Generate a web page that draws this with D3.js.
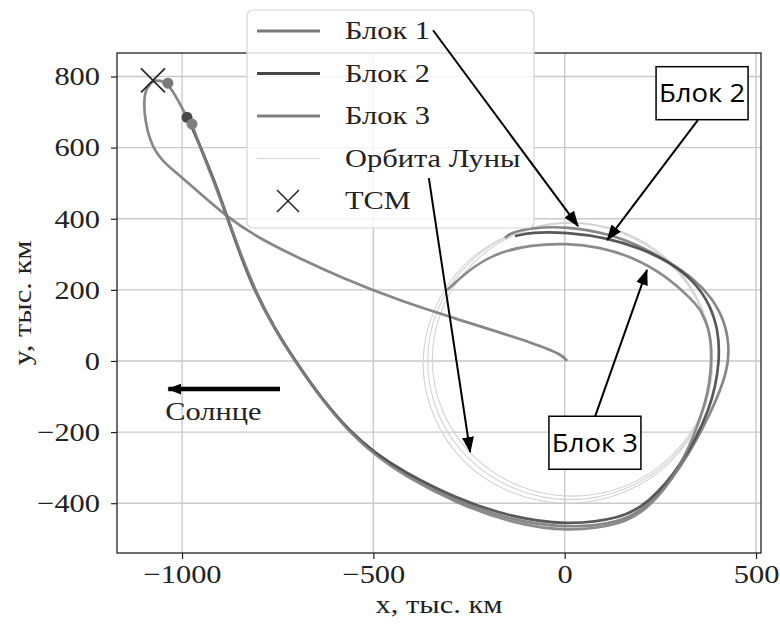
<!DOCTYPE html>
<html>
<head>
<meta charset="utf-8">
<script src="https://d3js.org/d3.v7.min.js"></script>
<style>
  body { margin: 0; background: #fff; }
</style>
</head>
<body>
<svg id="chart" width="780" height="626"></svg>
<script>
// ---- data (thousand km) ----
var xTicks = [-1000, -500, 0, 500];
var yTicks = [-400, -200, 0, 200, 400, 600, 800];

// Block 1: from Earth out to the far point (TCM), then the big loop back to the Moon orbit
var block1 = [[6,0],[-7,17],[-65,45],[-300,124],[-430,169],[-587,236],[-684,284],[-790,340],
  [-882,402],[-1000,517],[-1050,559],[-1081,607],[-1097,677],[-1100,733],[-1094,767],[-1076,789],
  [-1057,789],[-1037,781],[-1010,733],[-987,685],[-974,660],[-940,573],[-911,489],[-882,402],
  [-848,298],[-812,199],[-762,96],[-705,0],[-639,-101],[-561,-199],[-496,-260],[-430,-310],
  [-287,-393],[-143,-447],[1,-471],[145,-456],[215,-411],[301,-310],[387,-138],[427,-25],[430,45],
  [417,115],[385,177],[341,228],[275,278],[197,323],[119,357],[6,379],[-90,374],[-143,360],[-156,346]];

var block2 = [[-987,685],[-974,657],[-940,570],[-908,486],[-880,399],[-846,295],[-809,197],
  [-759,93],[-702,-3],[-637,-104],[-559,-202],[-493,-260],[-428,-307],[-284,-387],[-140,-439],
  [3,-462],[147,-444],[218,-400],[301,-302],[385,-132],[406,3],[401,87],[380,157],[341,222],
  [275,278],[197,317],[111,346],[6,362],[-90,362],[-130,351]];

var block3 = [[-974,666],[-940,565],[-908,480],[-877,393],[-843,289],[-806,191],[-757,87],
  [-700,-8],[-634,-110],[-556,-208],[-490,-269],[-425,-319],[-282,-401],[-138,-456],[6,-481],
  [150,-461],[220,-414],[301,-310],[375,-110],[385,3],[380,87],[354,143],[354,143],[354,143],
  [335,171],[262,242],[178,292],[92,320],[6,331],[-90,326],[-169,306],[-235,270],[-308,199]];

var moonOrbit1 = [[386,0],[358,149],[277,276],[156,360],[14,390],[-128,360],[-249,276],[-330,149],
  [-358,0],[-330,-149],[-249,-276],[-128,-360],[14,-390],[156,-360],[277,-276],[358,-149]];
var moonOrbit2 = [[386,-6],[357,145],[275,273],[153,358],[8,388],[-137,357],[-259,273],[-340,145],
  [-370,-6],[-341,-157],[-260,-285],[-137,-370],[8,-400],[153,-370],[275,-285],[357,-157]];
var moonOrbit3 = [[386,4],[358,151],[279,275],[160,359],[20,388],[-120,359],[-239,275],[-318,151],
  [-346,4],[-318,-143],[-239,-267],[-120,-351],[20,-380],[160,-351],[279,-267],[358,-143]];

var tcm = [-1076, 789];
var blockStarts = [[-1037,781],[-987,685],[-974,666]];

var legendLabels = ["Блок 1", "Блок 2", "Блок 3", "Орбита Луны", "ТСМ"];
var blockColors = ["#7a7a7a", "#474747", "#808080"];
var orbitColor = "#d3d3d3";

// ---- layout ----
var svg = d3.select("#chart");
var pL = 117, pR = 761, pT = 53, pB = 553;
var x = d3.scaleLinear().domain([-1170, 513]).range([pL, pR]);
var y = d3.scaleLinear().domain([-540, 866]).range([pB, pT]);
var FS = 26, SX = 1.17;   // serif text size and horizontal stretch
var serif = "'Liberation Serif', 'Times New Roman', serif";

var defs = svg.append("defs");
defs.append("clipPath").attr("id", "plotclip")
  .append("rect").attr("x", pL).attr("y", pT).attr("width", pR - pL).attr("height", pB - pT);
defs.append("marker").attr("id", "head")
  .attr("markerUnits", "userSpaceOnUse")
  .attr("markerWidth", 16).attr("markerHeight", 12)
  .attr("refX", 15).attr("refY", 6).attr("orient", "auto")
  .append("path").attr("d", "M0,0 L16,6 L0,12 Z").attr("fill", "#000");
defs.append("marker").attr("id", "sunhead")
  .attr("markerUnits", "userSpaceOnUse")
  .attr("markerWidth", 14).attr("markerHeight", 11)
  .attr("refX", 13).attr("refY", 5.5).attr("orient", "auto")
  .append("path").attr("d", "M0,0 L14,5.5 L0,11 Z").attr("fill", "#000");

function label(g, tx, ty, str, anchor, rot) {
  return g.append("text")
    .attr("transform", "translate(" + tx + "," + ty + ")" + (rot ? " rotate(" + rot + ")" : "") + " scale(" + SX + ",1)")
    .attr("text-anchor", anchor || "start")
    .style("font-family", serif)
    .attr("font-size", FS).attr("fill", "#222").text(str);
}

// grid
var grid = svg.append("g");
grid.selectAll(".gx").data(xTicks).enter().append("line")
  .attr("x1", function(d) { return x(d); }).attr("x2", function(d) { return x(d); })
  .attr("y1", pT).attr("y2", pB)
  .attr("stroke", "#c9c9c9").attr("stroke-width", 1.4);
grid.selectAll(".gy").data(yTicks).enter().append("line")
  .attr("y1", function(d) { return y(d); }).attr("y2", function(d) { return y(d); })
  .attr("x1", pL).attr("x2", pR)
  .attr("stroke", "#c9c9c9").attr("stroke-width", 1.4);

var plot = svg.append("g").attr("clip-path", "url(#plotclip)");
var orbitLine = d3.line().x(function(d) { return x(d[0]); }).y(function(d) { return y(d[1]); })
  .curve(d3.curveCatmullRomClosed);
var line = d3.line().x(function(d) { return x(d[0]); }).y(function(d) { return y(d[1]); })
  .curve(d3.curveBasis);

// moon orbit
[moonOrbit1, moonOrbit2, moonOrbit3].forEach(function(o) {
  plot.append("path").attr("d", orbitLine(o))
    .attr("fill", "none").attr("stroke", orbitColor).attr("stroke-width", 1.1);
});

// trajectories
[block1, block2, block3].forEach(function(b, i) {
  plot.append("path").attr("d", line(b))
    .attr("fill", "none").attr("stroke", blockColors[i])
    .attr("stroke-width", 2.7).attr("stroke-opacity", 0.9);
});

// block start points
plot.selectAll(".dot").data(blockStarts).enter().append("circle")
  .attr("cx", function(d) { return x(d[0]); })
  .attr("cy", function(d) { return y(d[1]); })
  .attr("r", 5.5)
  .attr("fill", function(d, i) { return blockColors[i]; });

// TCM marker
var tx = x(tcm[0]), ty = y(tcm[1]);
plot.append("path")
  .attr("d", "M" + (tx - 12) + "," + (ty - 12) + "L" + (tx + 12) + "," + (ty + 12) +
             "M" + (tx - 12) + "," + (ty + 12) + "L" + (tx + 12) + "," + (ty - 12))
  .attr("stroke", "#222").attr("stroke-width", 1.6);

// axes
var fmt = d3.format("d");
var xAxis = svg.append("g").attr("transform", "translate(0," + pB + ")")
  .call(d3.axisBottom(x).tickValues(xTicks).tickFormat(fmt).tickSize(6).tickPadding(6).tickSizeOuter(0));
var yAxis = svg.append("g").attr("transform", "translate(" + pL + ",0)")
  .call(d3.axisLeft(y).tickValues(yTicks).tickFormat(fmt).tickSize(6).tickPadding(11).tickSizeOuter(0));
[xAxis, yAxis].forEach(function(a) {
  a.select(".domain").remove();
  a.selectAll("line").attr("stroke", "#222").attr("stroke-width", 1.2);
  a.selectAll("text").style("font-family", serif).attr("font-size", FS).attr("fill", "#222")
    .attr("transform", "scale(" + SX + ",1)");
});
yAxis.selectAll("text").attr("x", -17 / SX);

svg.append("rect").attr("x", pL).attr("y", pT)
  .attr("width", pR - pL).attr("height", pB - pT)
  .attr("fill", "none").attr("stroke", "#222").attr("stroke-width", 1.3);

label(svg, (pL + pR) / 2, 613, "x, тыс. км", "middle");
label(svg, 31, (pT + pB) / 2, "y, тыс. км", "middle", -90);

// legend
var lg = svg.append("g");
lg.append("rect").attr("x", 247).attr("y", 10).attr("width", 287).attr("height", 218)
  .attr("rx", 6).attr("fill", "#fff").attr("fill-opacity", 0.82)
  .attr("stroke", "#d4d4d4").attr("stroke-width", 1.2);
legendLabels.forEach(function(lab, i) {
  var ly = 31 + i * 42.5;
  if (i < 3) {
    lg.append("line").attr("x1", 257).attr("x2", 320).attr("y1", ly).attr("y2", ly)
      .attr("stroke", blockColors[i]).attr("stroke-width", 2.8);
  } else if (i === 3) {
    lg.append("line").attr("x1", 257).attr("x2", 320).attr("y1", ly).attr("y2", ly)
      .attr("stroke", orbitColor).attr("stroke-width", 1.2);
  } else {
    lg.append("path")
      .attr("d", "M277," + (ly - 11) + "L299," + (ly + 11) + "M277," + (ly + 11) + "L299," + (ly - 11))
      .attr("stroke", "#222").attr("stroke-width", 1.5);
  }
  label(lg, 345, ly + 8, lab);
});

// annotations (positions in data units)
var arrows = [
  [[-344, 930], [35, 379]],
  [[348, 677], [111, 340]],
  [[79, -157], [215, 256]],
  [[-355, 514], [-247, -256]]
];
arrows.forEach(function(a) {
  svg.append("line")
    .attr("x1", x(a[0][0])).attr("y1", y(a[0][1]))
    .attr("x2", x(a[1][0])).attr("y2", y(a[1][1]))
    .attr("stroke", "#000").attr("stroke-width", 2)
    .attr("marker-end", "url(#head)");
});

var boxes = [["Блок 2", 359, 753], ["Блок 3", 79, -230]];
boxes.forEach(function(b) {
  var cx = x(b[1]), cy = y(b[2]);
  svg.append("rect").attr("x", cx - 46).attr("y", cy - 26.5).attr("width", 92).attr("height", 53)
    .attr("fill", "#fff").attr("stroke", "#000").attr("stroke-width", 1.5);
  svg.append("text")
    .attr("transform", "translate(" + cx + "," + (cy + 9) + ") scale(1.1,1)")
    .attr("text-anchor", "middle")
    .style("font-family", "'Open Sans', 'DejaVu Sans', sans-serif").attr("font-size", 25)
    .attr("fill", "#000").text(b[0]);
});

// Sun direction
svg.append("line")
  .attr("x1", x(-744)).attr("y1", y(-79)).attr("x2", x(-1036)).attr("y2", y(-79))
  .attr("stroke", "#000").attr("stroke-width", 4.5).attr("marker-end", "url(#sunhead)");
label(svg, x(-1044), y(-166), "Солнце");
</script>
</body>
</html>
